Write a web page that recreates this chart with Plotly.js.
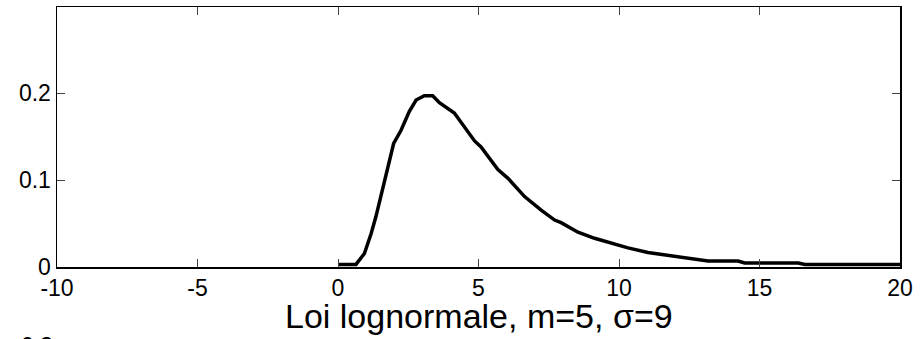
<!DOCTYPE html>
<html>
<head>
<meta charset="utf-8">
<script src="https://cdn.plot.ly/plotly-3.0.1.min.js"></script>
<style>html,body{margin:0;padding:0;background:#fff;}#chart{width:921px;height:339px;}</style>
</head>
<body>
<div id="chart"></div>
<script>
// Density curve
const xValues = [0, 0.64, 0.94, 1.18, 1.35, 1.53, 1.77, 1.98, 2.24, 2.54, 2.78, 3.07, 3.37, 3.61, 4.14, 4.50, 4.86, 5.09, 5.69, 6.05, 6.64, 7.23, 7.71, 7.94, 8.54, 9.13, 9.73, 10.32, 11.03, 11.51, 12.22, 13.17, 14.24, 14.47, 16.38, 16.61, 20];
const yValues = [0.003, 0.003, 0.0155, 0.0385, 0.058, 0.081, 0.112, 0.142, 0.157, 0.179, 0.192, 0.197, 0.197, 0.189, 0.177, 0.161, 0.145, 0.138, 0.112, 0.102, 0.081, 0.0655, 0.054, 0.051, 0.040, 0.033, 0.027, 0.022, 0.0166, 0.0143, 0.0115, 0.0069, 0.0069, 0.0046, 0.0046, 0.0028, 0.0028];
const xTicks = [-10, -5, 0, 5, 10, 15, 20];
const xTickLabels = ['-10', '-5', '0', '5', '10', '15', '20'];
const yTicks = [0, 0.1, 0.2];
const yTickLabels = ['0', '0.1', '0.2'];
const titleText = 'Loi lognormale, m=5, σ=9';
const cutLabel = '0.3';

const font = 'Liberation Sans, Arial, Helvetica, sans-serif';

const trace = {
  x: xValues, y: yValues, type: 'scatter', mode: 'lines',
  line: {color: '#000', width: 3.5, shape: 'linear'},
  hoverinfo: 'none', cliponaxis: false
};

const layout = {
  width: 921, height: 339,
  margin: {l: 57, r: 21, t: 7, b: 72, pad: 0},
  paper_bgcolor: '#fff', plot_bgcolor: '#fff',
  showlegend: false,
  font: {family: font, color: '#000', size: 23},
  xaxis: {
    range: [-10, 20], tickmode: 'array', tickvals: xTicks, ticktext: xTickLabels,
    ticks: 'inside', ticklen: 8, tickwidth: 1, tickcolor: '#444',
    showline: true, linecolor: '#000', linewidth: 1.5, mirror: 'ticks',
    showgrid: false, zeroline: false,
    tickfont: {family: font, size: 23, color: '#000'}
  },
  yaxis: {
    range: [0, 0.299], tickmode: 'array', tickvals: yTicks, ticktext: yTickLabels,
    ticks: 'inside', ticklen: 8, tickwidth: 1, tickcolor: '#444',
    showline: true, linecolor: '#000', linewidth: 1.5, mirror: 'ticks',
    showgrid: false, zeroline: false,
    tickfont: {family: font, size: 23, color: '#000'}
  },
  annotations: [{
    text: titleText, xref: 'paper', yref: 'paper', x: 0.5, y: -0.19,
    xanchor: 'center', yanchor: 'middle', showarrow: false,
    font: {family: font, size: 34, color: '#000'}
  }, {
    text: cutLabel, xref: 'paper', yref: 'paper', x: -0.002, y: -0.246,
    xanchor: 'right', yanchor: 'top', showarrow: false,
    font: {family: font, size: 23, color: '#000'}
  }]
};

Plotly.newPlot('chart', [trace], layout, {staticPlot: true, displayModeBar: false});
</script>
</body>
</html>
